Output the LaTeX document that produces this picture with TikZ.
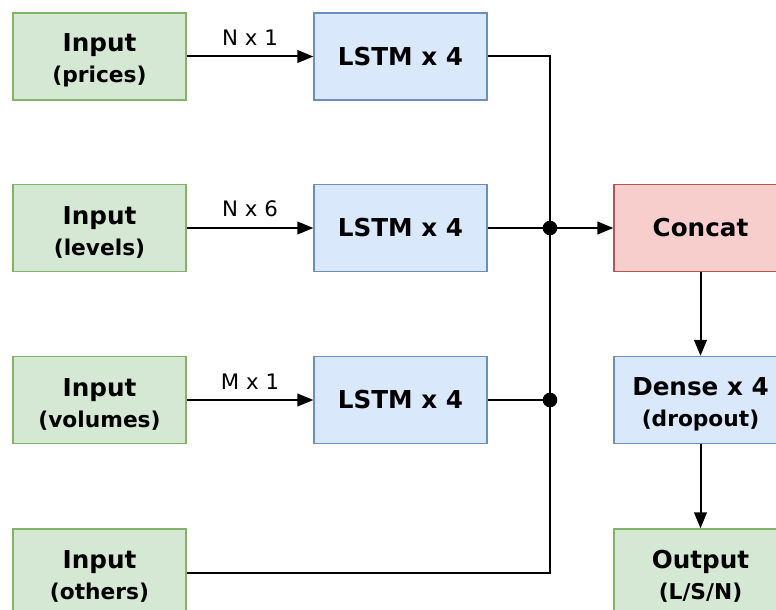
\documentclass[tikz,border=0pt]{standalone}
\usepackage{fontspec}
\setmainfont{DejaVu Sans}
\usetikzlibrary{arrows.meta,positioning}
\definecolor{greenfill}{HTML}{D5E8D4}
\definecolor{greenline}{HTML}{82B366}
\definecolor{bluefill}{HTML}{DAE8FC}
\definecolor{blueline}{HTML}{6C8EBF}
\definecolor{redfill}{HTML}{F8CECC}
\definecolor{redline}{HTML}{B85450}
\newcommand{\twoline}[2]{\rule{0pt}{19.5pt}#1\\{\fontsize{16.3}{23.25}\selectfont #2}}
\tikzset{
        block/.style = {draw, rectangle, line width=1pt,
            minimum height=65.25pt,
            minimum width=129.75pt, inner sep=0pt, align=center,
            font=\bfseries\fontsize{18.5}{23.25}\selectfont},
        inblock/.style = {block, draw=greenline, fill=greenfill},
        lstmblock/.style = {block, draw=blueline, fill=bluefill},
        catblock/.style = {block, draw=redline, fill=redfill},
        arrow/.style = {draw, line width=1.5pt, -{Triangle[length=12pt,width=9.5pt]}},
        wire/.style = {draw, line width=1.5pt},
        dot/.style = {circle, fill=black, inner sep=0pt, minimum size=11pt},
        dimlabel/.style = {inner sep=0pt, anchor=south, yshift=7.5pt, font=\fontsize{16}{18}\selectfont},
    }

\begin{document}
\begin{tikzpicture}[x=0.75pt,y=0.75pt,yscale=-1,xscale=1]
\useasboundingbox (0,0) rectangle (776,610);

% inputs
\node [inblock] (inP) at (99.5,56.5) {\twoline{Input}{(prices)}};
\node [inblock] (inL) at (99.5,228) {\twoline{Input}{(levels)}};
\node [inblock] (inV) at (99.5,400) {\twoline{Input}{(volumes)}};
\node [inblock] (inO) at (99.5,572.5) {\twoline{Input}{(others)}};

% lstm layers
\node [lstmblock] (lstmP) at (400.5,56.5) {LSTM x 4};
\node [lstmblock] (lstmL) at (400.5,228) {LSTM x 4};
\node [lstmblock] (lstmV) at (400.5,400) {LSTM x 4};

% head
\node [catblock] (concat) at (700.5,228) {Concat};
\node [lstmblock] (dense) at (700.5,400) {\twoline{Dense x 4}{(dropout)}};
\node [inblock] (output) at (700.5,572.5) {\twoline{Output}{(L/S/N)}};

% junctions
\node [dot] (jTop) at (550,228) {};
\node [dot] (jBot) at (550,400) {};

\path [arrow] (inP) -- node [dimlabel] {N x 1} (lstmP);
\path [arrow] (inL) -- node [dimlabel] {N x 6} (lstmL);
\path [arrow] (inV) -- node [dimlabel] {M x 1} (lstmV);

\path [wire] (lstmP.east) -| (jTop.center);
\path [wire] (lstmV.east) -- (jBot.center);
\path [wire] (inO.east) -| (jBot.center);
\path [wire] (jBot.center) -- (jTop.center);
\path [arrow] (lstmL.east) -- (concat.west);
\path [arrow] (concat) -- (dense);
\path [arrow] (dense) -- (output);

\end{tikzpicture}
\end{document}
